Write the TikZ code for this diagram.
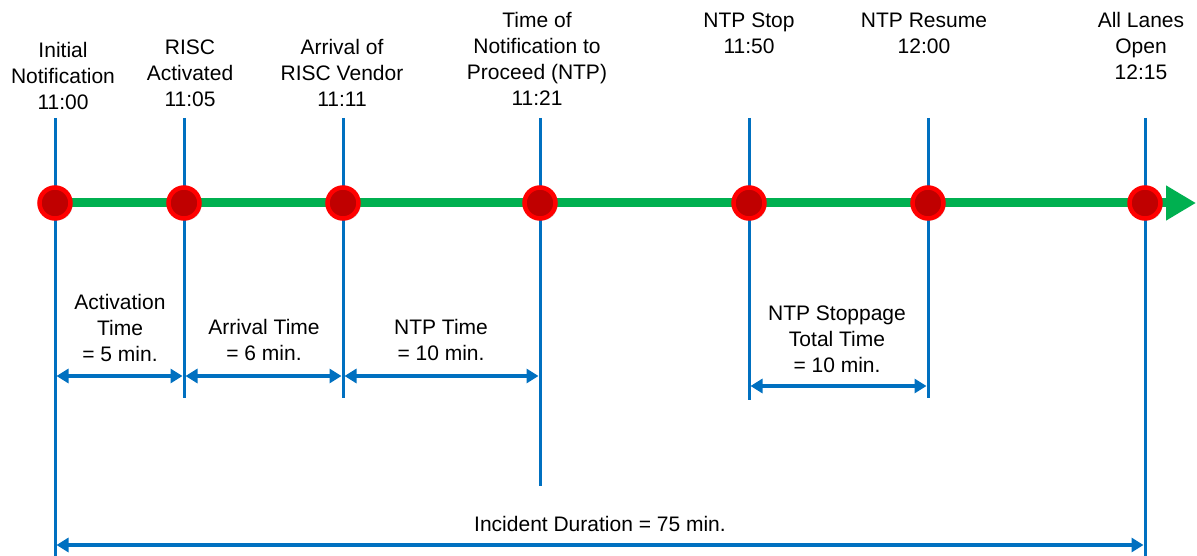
\documentclass[tikz,border=0pt]{standalone}
\usepackage{fontspec}
\setmainfont{Liberation Sans}
\usetikzlibrary{arrows.meta,shadows}
\definecolor{tlgreen}{HTML}{00B050}
\definecolor{tlred}{HTML}{FF0000}
\definecolor{tldred}{HTML}{C00000}
\definecolor{tlblue}{HTML}{0070C0}
\tikzset{
  vline/.style={draw=tlblue, line width=3pt},
  dimarrow/.style={draw=tlblue, line width=3.5pt, {Triangle[length=12pt,width=14pt]}-{Triangle[length=12pt,width=14pt]}, shorten <=1.5pt, shorten >=1.5pt},
  event/.style={circle, fill=tldred, draw=tlred, line width=4.5pt, minimum size=31pt, inner sep=0pt,
     drop shadow={opacity=0.3, shadow xshift=2pt, shadow yshift=-2pt}},
  lbl/.style={align=center, font=\fontsize{21pt}{26pt}\selectfont, inner sep=0pt},
}
\begin{document}
\begin{tikzpicture}[x=1pt,y=-1pt]
\useasboundingbox (0,0) rectangle (1197,556);
% vertical lines
\coordinate (t1) at (55,118);   \coordinate (b1) at (55,556);
\coordinate (t2) at (184,118);  \coordinate (b2) at (184,398);
\coordinate (t3) at (343,118);  \coordinate (b3) at (343,398);
\coordinate (t4) at (540,118);  \coordinate (b4) at (540,486);
\coordinate (t5) at (749,118);  \coordinate (b5) at (749,400);
\coordinate (t6) at (928,118);  \coordinate (b6) at (928,398);
\coordinate (t7) at (1145,118); \coordinate (b7) at (1145,556);
\foreach \i in {1,...,7} {\draw[vline] (t\i) -- (b\i);}
% green timeline
\coordinate (gend) at (1196,203);
\draw[draw=tlgreen, line width=9pt, -{Triangle[length=30pt,width=33pt]}] (55,203) -- (gend);
% events
\node[event] (e1) at (55,203) {};
\node[event] (e2) at (184,203) {};
\node[event] (e3) at (343,203) {};
\node[event] (e4) at (540,203) {};
\node[event] (e5) at (749,203) {};
\node[event] (e6) at (928,203) {};
\node[event] (e7) at (1145,203) {};
% top labels
\node[lbl] (l1) at (63,76) {Initial\\Notification\\11:00};
\node[lbl] (l2) at (190,73) {RISC\\Activated\\11:05};
\node[lbl] (l3) at (342,73) {Arrival of\\RISC Vendor\\11:11};
\node[lbl] (l4) at (537,59) {Time of\\Notification to\\Proceed (NTP)\\11:21};
\node[lbl] (l5) at (749,33) {NTP Stop\\11:50};
\node[lbl] (l6) at (924,33) {NTP Resume\\12:00};
\node[lbl] (l7) at (1141,46) {All Lanes\\Open\\12:15};
% durations
\coordinate (d1a) at (55,376);  \coordinate (d1b) at (184,376);
\coordinate (d2a) at (184,376); \coordinate (d2b) at (343,376);
\coordinate (d3a) at (343,376); \coordinate (d3b) at (540,376);
\coordinate (d4a) at (749,386); \coordinate (d4b) at (928,386);
\coordinate (d5a) at (55,545);  \coordinate (d5b) at (1145,545);
\draw[dimarrow] (d1a) -- (d1b);
\draw[dimarrow] (d2a) -- (d2b);
\draw[dimarrow] (d3a) -- (d3b);
\draw[dimarrow] (d4a) -- (d4b);
\draw[dimarrow] (d5a) -- (d5b);
\node[lbl] (m1) at (120,328) {Activation\\Time\\= 5 min.};
\node[lbl] (m2) at (264,340) {Arrival Time\\= 6 min.};
\node[lbl] (m3) at (441,340) {NTP Time\\= 10 min.};
\node[lbl] (m4) at (837,339) {NTP Stoppage\\Total Time\\= 10 min.};
\node[lbl] (m5) at (600,524) {Incident Duration = 75 min.};
\end{tikzpicture}
\end{document}
